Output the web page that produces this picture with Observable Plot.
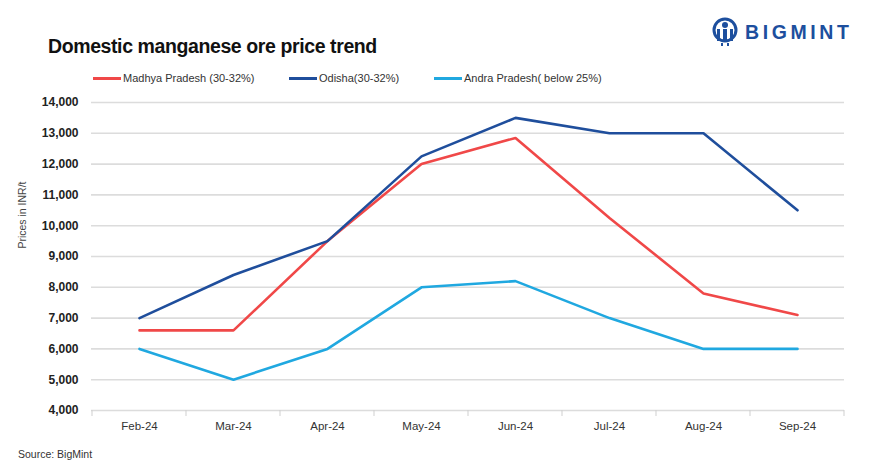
<!DOCTYPE html>
<html>
<head>
<meta charset="utf-8">
<script src="https://cdn.jsdelivr.net/npm/d3@7"></script>
<script src="https://cdn.jsdelivr.net/npm/@observablehq/plot@0.6"></script>
<style>
  html, body { margin: 0; padding: 0; background: #fff; }
  #wrap { position: relative; width: 875px; height: 467px; overflow: hidden; font-family: "Liberation Sans", Arial, sans-serif; color: #111; }
  #title { position: absolute; left: 48px; top: 35px; font-size: 19.5px; font-weight: bold; letter-spacing: -0.4px; color: #111; white-space: nowrap; }
  #legend { position: absolute; left: 93px; top: 72px; font-size: 11px; color: #333; white-space: nowrap; }
  #legend .item { position: absolute; top: 0; display: flex; align-items: center; }
  #legend .sw { display: inline-block; width: 28px; height: 3px; margin-right: 2px; }
  #ylabel { position: absolute; left: 22px; top: 215px; transform: translate(-50%, -50%) rotate(-90deg); font-size: 10.5px; color: #444; white-space: nowrap; }
  #source { position: absolute; left: 18px; top: 448px; font-size: 10.5px; color: #333; }
  #logo { position: absolute; left: 712px; top: 17px; display: flex; align-items: center; }
  #logo span { font-size: 19.5px; font-weight: bold; letter-spacing: 3.6px; color: #1d4f9e; margin-left: 7px; }
  #chart { position: absolute; left: 0; top: 88px; }
  #chart svg g[aria-label^="y-axis"] text { font-weight: bold; font-size: 12px; fill: #222; }
  #chart svg g[aria-label^="x-axis"] text { font-size: 11.5px; fill: #333; }
</style>
</head>
<body>
<div id="wrap">
  <div id="logo">
    <svg width="26" height="30" viewBox="0 0 26 30">
      <circle cx="13" cy="13" r="11" fill="none" stroke="#1d4f9e" stroke-width="3"/>
      <circle cx="13" cy="8" r="3" fill="#1d4f9e"/>
      <rect x="11" y="12" width="4" height="13" fill="#1d4f9e"/>
      <rect x="5" y="12" width="3" height="12" fill="#1d4f9e"/>
      <rect x="18" y="12" width="3" height="12" fill="#1d4f9e"/>
      <rect x="9" y="26" width="2" height="3" fill="#1d4f9e"/>
      <rect x="15" y="26" width="2" height="3" fill="#1d4f9e"/>
    </svg>
    <span>BIGMINT</span>
  </div>
  <div id="title">Domestic manganese ore price trend</div>
  <div id="legend"></div>
  <div id="ylabel">Prices in INR/t</div>
  <div id="chart"></div>
  <div id="source">Source: BigMint</div>
</div>
<script>
const months = ["Feb-24", "Mar-24", "Apr-24", "May-24", "Jun-24", "Jul-24", "Aug-24", "Sep-24"];
const seriesNames = ["Madhya Pradesh (30-32%)", "Odisha(30-32%)", "Andra Pradesh( below 25%)"];
const madhyaPradesh = [6600, 6600, 9500, 12000, 12850, 10250, 7800, 7100];
const odisha = [7000, 8400, 9500, 12250, 13500, 13000, 13000, 10500];
const andraPradesh = [6000, 5000, 6000, 8000, 8200, 7000, 6000, 6000];
const seriesColors = ["#f04848", "#1f4e9c", "#20a8e0"];
const yTicks = [4000, 5000, 6000, 7000, 8000, 9000, 10000, 11000, 12000, 13000, 14000];

const seriesValues = [madhyaPradesh, odisha, andraPradesh];
const data = [];
seriesNames.forEach((s, si) => {
  months.forEach((m, i) => data.push({series: s, month: m, value: seriesValues[si][i]}));
});

// legend
const legend = document.getElementById("legend");
const legendX = [0, 196, 341];
seriesNames.forEach((s, i) => {
  const it = document.createElement("div");
  it.className = "item";
  it.style.left = legendX[i] + "px";
  it.innerHTML = `<span class="sw" style="background:${seriesColors[i]}"></span>${s}`;
  legend.appendChild(it);
});

function boundaryTicks(index, scales) {
  const sc = (scales && typeof scales.x === "function") ? scales : (scales && scales.scales) || {};
  const x = sc.x, y = sc.y;
  const step = x(months[1]) - x(months[0]);
  const y0 = y(yTicks[0]);
  const bounds = months.map(m => x(m) - step / 2).concat([x(months[months.length - 1]) + step / 2]);
  const g = d3.create("svg:g");
  g.selectAll("line").data(bounds).join("line")
    .attr("x1", d => d).attr("x2", d => d)
    .attr("y1", y0).attr("y2", y0 + 6)
    .attr("stroke", "#cfcfcf").attr("stroke-width", 1);
  return g.node();
}

const chart = Plot.plot({
  width: 875,
  height: 355,
  marginLeft: 91,
  marginRight: 31,
  marginTop: 14,
  marginBottom: 33,
  style: {fontFamily: "'Liberation Sans', Arial, sans-serif", background: "transparent"},
  x: {type: "point", domain: months, padding: 0.5, label: null, tickSize: 0, tickPadding: 11},
  y: {domain: [4000, 14000], ticks: yTicks, tickFormat: d3.format(","), label: null, tickSize: 0, tickPadding: 13},
  color: {domain: seriesNames, range: seriesColors},
  marks: [
    Plot.ruleY(yTicks, {stroke: "#dcdcdc", strokeWidth: 1.6}),
    boundaryTicks,
    Plot.line(data, {x: "month", y: "value", z: "series", stroke: "series", strokeWidth: 2.6, strokeLinejoin: "miter"})
  ]
});
document.getElementById("chart").appendChild(chart);
</script>
</body>
</html>
